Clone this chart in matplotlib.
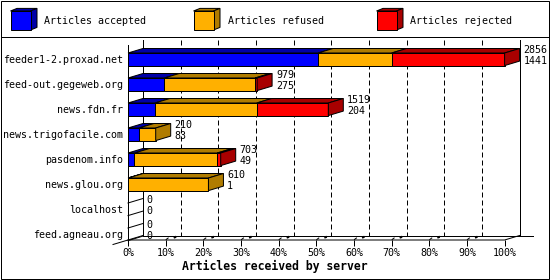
import matplotlib
matplotlib.use("Agg")
import matplotlib.pyplot as plt
from matplotlib.patches import Polygon

# ---------------- data ----------------
servers = ["feeder1-2.proxad.net", "feed-out.gegeweb.org", "news.fdn.fr",
           "news.trigofacile.com", "pasdenom.info", "news.glou.org",
           "localhost", "feed.agneau.org"]
accepted = [1441, 275, 204, 83, 49, 1, 0, 0]
refused = [558, 689, 772, 127, 628, 609, 0, 0]
rejected = [857, 15, 543, 0, 26, 0, 0, 0]
series_names = ["Articles accepted", "Articles refused", "Articles rejected"]
pct_ticks = [0, 10, 20, 30, 40, 50, 60, 70, 80, 90, 100]
xlabel = "Articles received by server"

front_colors = ["#0000FF", "#FFB000", "#FF0000"]
shade_colors = ["#0000A8", "#B07C00", "#A80000"]

MONO = "DejaVu Sans Mono"
FS = 7.2
LW = 0.72  # 1 px at 100 dpi

W, H = 550, 280
fig = plt.figure(figsize=(W / 100, H / 100), dpi=100)
fig.patch.set_facecolor("white")

# overlay axes in pixel coordinates (frame + legend)
ov = fig.add_axes([0, 0, 1, 1])
ov.set_xlim(0, W)
ov.set_ylim(H, 0)
ov.axis("off")

ov.add_patch(Polygon([(0.5, 0.5), (548.5, 0.5), (548.5, 278.5), (0.5, 278.5)],
                     closed=True, fill=False, ec="black", lw=LW))
ov.plot([0.5, 548.5], [36.5, 36.5], color="black", lw=LW)

# legend
leg_x = [10.5, 193.5, 376.5]
for k, name in enumerate(series_names):
    x0 = leg_x[k]
    y0, y1 = 11, 30
    w = 20
    ddx, ddy = 6.5, -2.6
    ov.add_patch(Polygon([(x0, y0), (x0 + w, y0), (x0 + w + ddx, y0 + ddy), (x0 + ddx, y0 + ddy)],
                         closed=True, fc=shade_colors[k], ec="black", lw=LW))
    ov.add_patch(Polygon([(x0 + w, y0), (x0 + w + ddx, y0 + ddy), (x0 + w + ddx, y1 + ddy), (x0 + w, y1)],
                         closed=True, fc=shade_colors[k], ec="black", lw=LW))
    ov.add_patch(Polygon([(x0, y0), (x0 + w, y0), (x0 + w, y1), (x0, y1)],
                         closed=True, fc=front_colors[k], ec="black", lw=LW))
    ov.text(x0 + 34, 20.5, name, fontfamily=MONO, fontsize=FS, va="center", ha="left")

# ---------------- plot axes ----------------
PXX = 3.766       # px per percent
ROW = 25.0        # px per category
ROW0 = 59.3       # px y of first category center
X0PX, TOPPX, BOTPX, RIGHTPX = 128, 40, 240, 535

def iy(py):
    return (py - ROW0) / ROW

pax = fig.add_axes([X0PX / W, 1 - BOTPX / H, (RIGHTPX - X0PX) / W, (BOTPX - TOPPX) / H])
pax.set_xlim(0, (RIGHTPX - X0PX) / PXX)
pax.set_ylim(iy(BOTPX), iy(TOPPX))
pax.patch.set_visible(False)
for s in pax.spines.values():
    s.set_visible(False)

DX = 15 / PXX
DY = -4.5 / ROW
H2 = 6.3 / ROW
floor_back = iy(235.5)
top_i = iy(TOPPX)

# back wall gridlines
for t in pct_ticks[1:-1]:
    pax.plot([t + DX, t + DX], [top_i, floor_back], color="black", lw=LW,
             linestyle=(0, (5, 3)), zorder=1, clip_on=False)

# walls / floor
pax.plot([DX, DX], [top_i, floor_back], color="black", lw=LW, zorder=2, clip_on=False)
pax.plot([100 + DX, 100 + DX], [top_i, floor_back], color="black", lw=LW, zorder=2, clip_on=False)
pax.plot([DX, (533 - X0PX) / PXX], [floor_back, floor_back], color="black", lw=LW, zorder=2, clip_on=False)
pax.plot([0, 100, 100 + DX], [iy(240), iy(240), floor_back], color="black", lw=LW, zorder=2, clip_on=False)
pax.plot([-DX, DX], [iy(244.5), floor_back], color="black", lw=LW, zorder=2, clip_on=False)
pax.plot([0, 0], [iy(45), iy(240)], color="black", lw=LW, zorder=2, clip_on=False)

# small floor tick marks
for t in pct_ticks[1:-1]:
    pax.plot([t + 0.5 / PXX, t + 2.5 / PXX], [iy(239.5), iy(238)], color="black", lw=LW, zorder=2, clip_on=False)
    pax.plot([t + 8 / PXX, t + 10.5 / PXX], [iy(237.6), iy(236.8)], color="black", lw=1.6, zorder=2,
             clip_on=False, solid_capstyle="butt")

max_total = max(a + r + j for a, r, j in zip(accepted, refused, rejected))

for i in range(len(servers)):
    vals = [accepted[i], refused[i], rejected[i]]
    total = sum(vals)
    start = 0.0
    last_k = None
    top = i - H2
    bot = i + H2
    for k, v in enumerate(vals):
        if v <= 0:
            continue
        s = start
        e = start + v / max_total * 100
        pax.add_patch(Polygon([(s, top), (e, top), (e, bot), (s, bot)], closed=True,
                              fc=front_colors[k], ec="black", lw=LW, zorder=3, clip_on=False))
        pax.add_patch(Polygon([(s, top), (e, top), (e + DX, top + DY), (s + DX, top + DY)], closed=True,
                              fc=shade_colors[k], ec="black", lw=LW, zorder=3, clip_on=False))
        start = e
        last_k = k
    E = total / max_total * 100
    if last_k is not None:
        pax.add_patch(Polygon([(E, top), (E + DX, top + DY), (E + DX, bot + DY), (E, bot)], closed=True,
                              fc=shade_colors[last_k], ec="black", lw=LW, zorder=3, clip_on=False))
    else:
        pax.plot([0, DX], [top, top + DY], color="black", lw=LW, zorder=3, clip_on=False)
        pax.plot([0, DX], [bot, bot + DY], color="black", lw=LW, zorder=3, clip_on=False)
    tx = E + DX + 3.8 / PXX
    pax.text(tx, i - 9.2 / ROW, str(total), fontfamily=MONO, fontsize=FS, va="center", ha="left",
             zorder=4, clip_on=False)
    pax.text(tx, i + 1.4 / ROW, str(accepted[i]), fontfamily=MONO, fontsize=FS, va="center", ha="left",
             zorder=4, clip_on=False)

pax.set_xticks(pct_ticks, labels=[f"{t}%" for t in pct_ticks])
pax.set_yticks(range(len(servers)), labels=servers)
pax.tick_params(axis="x", length=6 * LW, width=LW, pad=1.5, direction="out", colors="black")
pax.tick_params(axis="y", length=0, pad=4.5 * LW)
for lab in pax.get_xticklabels() + pax.get_yticklabels():
    lab.set_fontfamily(MONO)
    lab.set_fontsize(FS)

fig.text(0.5, 1 - 266.7 / H, xlabel, ha="center", va="center", fontfamily=MONO,
         fontweight="bold", fontsize=8.3)

fig.savefig("out.png", dpi=100)
